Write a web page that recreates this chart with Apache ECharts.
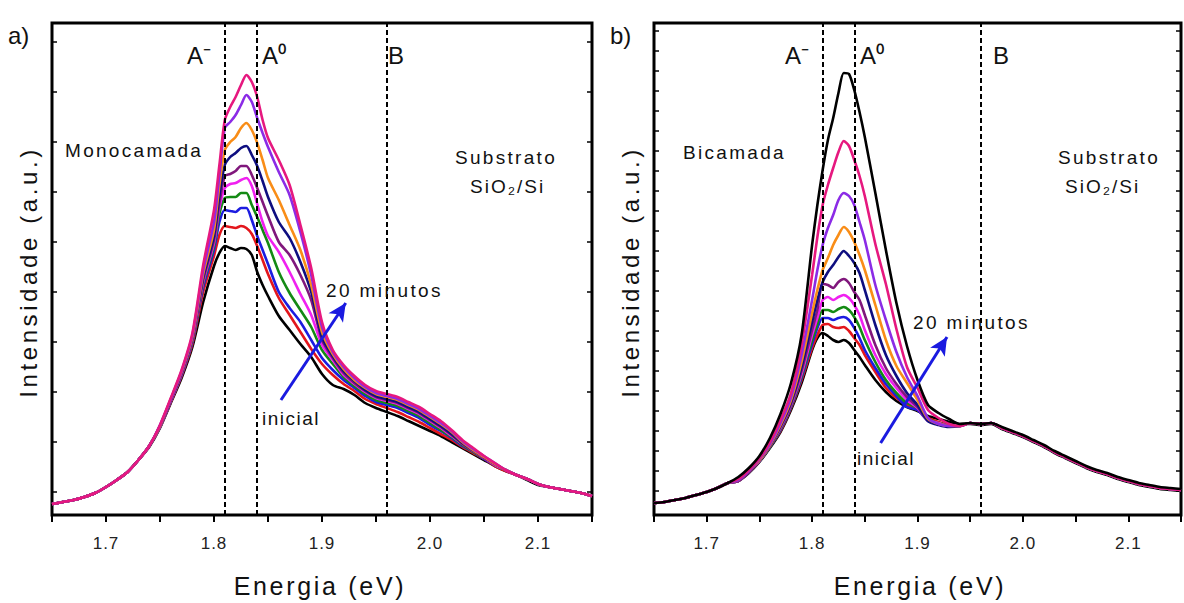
<!DOCTYPE html>
<html>
<head>
<meta charset="utf-8">
<script src="https://cdn.jsdelivr.net/npm/echarts@6/dist/echarts.min.js"></script>
<style>
  html, body { margin: 0; padding: 0; background: #ffffff; }
  #chart { width: 1184px; height: 603px; }
</style>
</head>
<body>
<div id="chart"></div>
<script>
// Photon energy grid (eV); finer steps around the A exciton peak
const energia = [
  1.65, 1.66, 1.67, 1.68, 1.69, 1.70, 1.71, 1.72, 1.73, 1.74,
  1.75, 1.76, 1.77, 1.78, 1.79, 1.80, 1.805, 1.81, 1.815, 1.82,
  1.825, 1.83, 1.835, 1.84, 1.845, 1.85, 1.86, 1.87, 1.88, 1.89,
  1.90, 1.91, 1.92, 1.93, 1.94, 1.95, 1.96, 1.97, 1.98, 1.99,
  2.00, 2.01, 2.02, 2.03, 2.04, 2.05, 2.06, 2.07, 2.08, 2.09,
  2.10, 2.11, 2.12, 2.13, 2.14, 2.15
];

// (a) Monolayer PL spectra, initial -> 20 minutes (a.u.)
const monoPreto    = [11,13,15,18,22,28,35,43,55,68, 87,112,137,168,213,249,262,269,267,265, 267,266,260,243,230,219,199,185,171,158, 141,130,126,120,112,107,103,99,94,89, 84,79,73,67,61,55,49,44,40,35, 30,28,26,24,22,19];
const monoVermelho = [11,13,15,18,22,28,35,43,55,69, 88,113,139,171,223,259,280,289,288,287, 289,287,281,269,255,241,217,200,183,166, 151,140,131,124,116,111,107,103,98,93, 87,81,75,68,62,56,49,44,40,36, 31,28,26,24,22,19];
const monoAzul     = [11,13,15,18,22,28,35,43,55,69, 88,114,140,173,228,265,293,305,304,303, 307,307,295,279,265,251,223,207,193,175, 157,145,135,127,119,113,110,107,102,97, 90,84,77,69,63,56,50,45,40,36, 31,28,26,24,22,19];
const monoVerde    = [11,13,15,18,22,28,35,43,55,69, 88,114,141,174,231,269,301,317,318,318, 322,322,310,298,285,272,243,222,205,188, 165,151,138,129,121,115,112,109,104,99, 92,85,78,70,63,57,50,45,40,36, 31,28,26,24,22,19];
const monoMagenta  = [11,13,15,18,22,28,35,43,55,69, 88,114,141,175,233,272,307,327,331,332, 335,337,329,311,293,279,263,243,221,200, 170,155,140,131,123,117,114,111,106,101, 94,87,79,71,64,57,50,45,40,36, 31,28,26,24,22,19];
const monoRoxo     = [11,13,15,18,22,28,35,43,55,69, 89,115,142,176,235,275,312,339,341,344, 349,349,340,327,313,299,273,260,240,215, 175,157,142,132,124,118,115,112,107,102, 95,88,80,71,64,57,51,45,40,36, 31,28,26,24,22,19];
const monoMarinho  = [11,13,15,18,22,28,35,43,55,69, 89,115,142,177,238,279,320,350,358,362, 367,369,360,349,334,318,293,277,253,223, 178,159,144,134,125,119,116,113,108,103, 96,89,81,72,65,58,51,45,40,36, 31,28,26,24,22,19];
const monoLaranja  = [11,13,15,18,22,28,35,43,55,69, 89,116,143,178,241,285,330,365,373,378, 387,392,385,372,355,337,315,290,265,230, 183,161,146,135,127,121,118,115,110,105, 98,91,83,73,65,58,51,45,40,36, 31,28,26,24,22,19];
const monoVioleta  = [11,13,15,18,22,28,35,43,55,69, 90,116,144,180,245,293,340,387,393,400, 410,420,413,397,382,368,343,320,283,240, 188,163,148,137,128,122,119,116,111,106, 99,92,84,74,66,59,52,45,40,36, 31,28,26,24,22,19];
const monoRosa     = [11,13,15,18,22,28,35,43,55,69, 90,117,145,182,250,305,350,395,408,418, 430,440,433,418,395,377,355,330,290,247, 193,165,150,139,130,124,121,118,113,108, 101,94,85,75,67,59,52,45,40,36, 31,28,26,24,22,19];

// (b) Bilayer PL spectra, initial -> 20 minutes (a.u.)
const biPreto0   = [12,13,15,17,20,23,27,32,34,42, 53,67,83,105,132,165,177,182,179,175, 173,175,172,165,158,150,135,123,114,108, 104,99,96,93,91,91,90,91, 86,82,78,73,68,62,57,52,47,43,40,36,33,30,28,26,25,24];
const biVermelho = [12,13,15,17,20,23,27,32,34,43, 54,68,84,107,135,167,180,190,191,188, 187,188,184,177,170,160,143,127,117,110, 105,97,93,90,89,92,91,92, 87,83,79,74,69,63,58,53,48,44,41,37,34,31,29,27,26,25];
const biAzul     = [12,13,15,17,20,23,27,32,34,43, 54,68,85,108,137,171,187,197,197,195, 197,198,195,187,177,165,147,131,119,108, 105,94,91,89,89,92,91,92, 87,83,79,74,69,63,58,53,48,44,41,37,34,31,29,27,26,25];
const biVerde    = [12,13,15,17,20,23,27,32,34,43, 54,68,86,109,139,175,191,205,205,203, 206,208,205,198,188,175,153,135,122,112, 107,96,92,90,89,92,91,92, 87,83,79,74,69,63,58,53,48,44,41,37,34,31,29,27,26,25];
const biMagenta  = [12,13,15,17,20,23,27,32,34,43, 54,69,87,110,141,180,197,215,218,215, 218,220,217,210,200,185,160,141,127,115, 107,95,92,89,89,92,91,92, 87,83,79,74,69,63,58,53,48,44,41,37,34,31,29,27,26,25];
const biRoxo     = [12,13,15,17,20,23,27,32,34,43, 55,69,88,111,144,185,205,231,230,227, 233,236,232,223,215,200,170,147,131,118, 108,94,91,89,89,92,91,92, 87,83,79,74,69,63,58,53,48,44,41,37,34,31,29,27,26,25];
const biMarinho  = [12,13,15,17,20,23,27,32,35,44, 55,70,89,113,148,193,215,233,243,250, 258,264,259,252,242,225,190,160,139,122, 110,94,90,88,89,92,91,92, 87,83,79,74,69,63,58,53,48,44,41,37,34,31,29,27,26,25];
const biLaranja  = [12,13,15,17,20,23,27,32,35,44, 55,70,90,115,153,202,225,245,257,270, 280,288,283,273,260,245,210,175,149,132, 115,96,91,89,89,92,91,92, 87,83,79,74,69,63,58,53,48,44,41,37,34,31,29,27,26,25];
const biVioleta  = [12,13,15,17,20,23,27,32,35,44, 56,71,92,118,160,215,245,270,287,300, 315,322,319,310,293,275,230,195,163,138, 119,97,91,89,89,92,91,92, 87,83,79,74,69,63,58,53,48,44,41,37,34,31,29,27,26,25];
const biRosa     = [12,13,15,17,20,23,27,32,36,45, 57,73,95,122,170,240,278,310,330,347, 363,374,369,355,339,319,271,231,186,148, 127,105,97,91,89,92,91,92, 87,83,79,74,69,63,58,53,48,44,41,37,34,31,29,27,26,25];
const biPreto20  = [12,13,15,17,20,23,27,32,38,47, 59,77,101,132,180,270,310,345,375,397, 422,442,441,425,403,378,322,265,212,169, 135,110,102,96,91,92,91,92, 88,84,80,75,70,64,59,54,49,45,42,38,35,32,30,28,27,26];

// Exciton reference energies (eV): A-, A0, B
const excitonMono = [1.809, 1.839, 1.958];
const excitonBi   = [1.806, 1.836, 1.960];
const excitonRotulos = ['A\u207B', 'A\u2070', 'B'];

// Time-arrow endpoints [energy, intensity]
const setaMono = [[1.862, 115], [1.922, 212]];
const setaBi   = [[1.865, 72], [1.928, 178]];

// Energy axis
const eMin = 1.65, eMax = 2.15, ePasso = 0.05;
const intensMax = 492;
// Intensity axis tick positions (a.u.)
const ticksMono = [23, 73, 123, 173, 223, 273, 323, 373, 423, 473];
const ticksBi = [24, 44, 64, 84, 104, 124, 144, 164, 184, 204, 224, 244, 264, 284, 304, 324, 344, 364, 384, 404, 424, 444, 464, 484];

const cores = {
  preto: '#000000', vermelho: '#e3161c', azul: '#1c1ce0', verde: '#148a14',
  magenta: '#f020f0', roxo: '#80177c', marinho: '#0e0e80', laranja: '#f98d17',
  violeta: '#8b2be6', rosa: '#e6187f'
};

const seriesMono = [
  [monoPreto, cores.preto], [monoVermelho, cores.vermelho], [monoAzul, cores.azul],
  [monoVerde, cores.verde], [monoMagenta, cores.magenta], [monoRoxo, cores.roxo],
  [monoMarinho, cores.marinho], [monoLaranja, cores.laranja], [monoVioleta, cores.violeta],
  [monoRosa, cores.rosa]
];
const seriesBi = [
  [biPreto0, cores.preto], [biVermelho, cores.vermelho], [biAzul, cores.azul],
  [biVerde, cores.verde], [biMagenta, cores.magenta], [biRoxo, cores.roxo],
  [biMarinho, cores.marinho], [biLaranja, cores.laranja], [biVioleta, cores.violeta],
  [biRosa, cores.rosa], [biPreto20, cores.preto]
];

const FONTE = "'Liberation Sans', Arial, sans-serif";
const TINTA = '#111111';

function pares(valores) {
  return energia.map((e, i) => [e, valores[i]]);
}

function linhasTracejadas(energias) {
  return {
    silent: true,
    symbol: ['none', 'none'],
    label: { show: false },
    lineStyle: { color: '#000', type: [5, 3], width: 2 },
    z: 20,
    data: energias.map(e => ({ xAxis: e })),
    animation: false
  };
}

function seta(pts) {
  return {
    silent: true,
    symbol: ['none', 'arrow'],
    symbolSize: [13, 18],
    label: { show: false },
    lineStyle: { color: '#1a1ae0', type: 'solid', width: 3 },
    z: 21,
    data: [[{ coord: pts[0] }, { coord: pts[1] }]],
    animation: false
  };
}

function construirSeries(lista, gi, tracos) {
  return lista.map((par, k) => {
    const s = {
      type: 'line',
      xAxisIndex: gi,
      yAxisIndex: gi * 2,
      data: pares(par[0]),
      showSymbol: false,
      smooth: 0.25,
      lineStyle: { color: par[1], width: 2.6 },
      itemStyle: { color: par[1] },
      z: 2 + k,
      silent: true
    };
    if (k === lista.length - 1) s.markLine = linhasTracejadas(tracos);
    return s;
  });
}

const sMono = construirSeries(seriesMono, 0, excitonMono);
const sBi = construirSeries(seriesBi, 1, excitonBi);
// arrows drawn by a helper series per panel
sMono.push({ type: 'line', xAxisIndex: 0, yAxisIndex: 0, data: [], silent: true, markLine: seta(setaMono), z: 30 });
sBi.push({ type: 'line', xAxisIndex: 1, yAxisIndex: 2, data: [], silent: true, markLine: seta(setaBi), z: 30 });

function eixoX(gi) {
  return {
    type: 'value', gridIndex: gi, min: eMin, max: eMax, interval: ePasso,
    axisLine: { show: false },
    splitLine: { show: false },
    axisTick: { show: true, inside: false, length: 7, lineStyle: { color: '#000', width: 2 } },
    axisLabel: {
      show: true, margin: 20, fontSize: 17, color: '#222', fontFamily: FONTE,
      formatter: v => (Math.abs(v * 10 - Math.round(v * 10)) < 1e-6 ? v.toFixed(1) : '')
    }
  };
}
function eixoY(gi, pos, ticks) {
  return {
    type: 'value', gridIndex: gi, position: pos, min: 0, max: intensMax,
    axisLine: { show: false },
    splitLine: { show: false },
    axisLabel: { show: false },
    axisTick: { show: true, inside: true, length: 5, customValues: ticks, lineStyle: { color: '#000', width: 1.5 } }
  };
}

function texto(t, x, y, size, extra) {
  return Object.assign({
    type: 'text', x: x, y: y, z: 100, silent: true,
    style: { text: t, fontSize: size, fontFamily: FONTE, fill: TINTA, align: 'left', verticalAlign: 'middle' }
  }, extra || {});
}

const grafico = [
  texto('a)', 8, 35, 24),
  texto(excitonRotulos[0], 187, 55, 24),
  texto(excitonRotulos[1], 262, 55, 24),
  texto(excitonRotulos[2], 388, 55, 24),
  texto('Monocamada', 65, 150, 19),
  texto('Substrato', 455, 157, 19),
  texto('SiO\u2082/Si', 470, 186, 19),
  texto('20 minutos', 326, 290, 19),
  texto('inicial', 262, 418, 19),
  texto('b)', 610, 35, 24),
  texto(excitonRotulos[0], 785, 55, 24),
  texto(excitonRotulos[1], 860, 55, 24),
  texto(excitonRotulos[2], 993, 55, 24),
  texto('Bicamada', 683, 152, 19),
  texto('Substrato', 1058, 157, 19),
  texto('SiO\u2082/Si', 1065, 186, 19),
  texto('20 minutos', 913, 322, 19),
  texto('inicial', 857, 458, 19),
  { type: 'text', x: 28, y: 272, rotation: Math.PI / 2, z: 100, silent: true,
    style: { text: 'Intensidade (a.u.)', fontSize: 24, fontFamily: FONTE, fill: TINTA, align: 'center', verticalAlign: 'middle' } },
  { type: 'text', x: 630, y: 272, rotation: Math.PI / 2, z: 100, silent: true,
    style: { text: 'Intensidade (a.u.)', fontSize: 24, fontFamily: FONTE, fill: TINTA, align: 'center', verticalAlign: 'middle' } },
  { type: 'text', x: 320, y: 586, z: 100, silent: true,
    style: { text: 'Energia (eV)', fontSize: 25, fontFamily: FONTE, fill: TINTA, align: 'center', verticalAlign: 'middle' } },
  { type: 'text', x: 920, y: 586, z: 100, silent: true,
    style: { text: 'Energia (eV)', fontSize: 25, fontFamily: FONTE, fill: TINTA, align: 'center', verticalAlign: 'middle' } }
];

const chart = echarts.init(document.getElementById('chart'), null, { renderer: 'svg', width: 1184, height: 603 });
chart.setOption({
  animation: false,
  backgroundColor: '#ffffff',
  grid: [
    { left: 52, top: 23, width: 540, height: 492, show: true, borderColor: '#000', borderWidth: 3, containLabel: false },
    { left: 654, top: 23, width: 538, height: 492, show: true, borderColor: '#000', borderWidth: 3, containLabel: false }
  ],
  xAxis: [eixoX(0), eixoX(1)],
  yAxis: [eixoY(0, 'left', ticksMono), eixoY(0, 'right', ticksMono), eixoY(1, 'left', ticksBi), eixoY(1, 'right', ticksBi)],
  series: sMono.concat(sBi),
  graphic: grafico
});

// wider tracking for the text, as in the typeset figure
const espacamento = {
  'Energia (eV)': 2.7, 'Intensidade (a.u.)': 3.6, 'Monocamada': 2.3, 'Bicamada': 2.3,
  'Substrato': 2.3, 'SiO\u2082/Si': 2, '20 minutos': 2.4, 'inicial': 1.5,
  '1.7': 1, '1.8': 1, '1.9': 1, '2.0': 1, '2.1': 1
};
function aplicarEspacamento() {
  document.querySelectorAll('#chart svg text').forEach(el => {
    const v = espacamento[el.textContent];
    if (v) el.setAttribute('letter-spacing', v + 'px');
  });
}
aplicarEspacamento();
chart.on('finished', aplicarEspacamento);
</script>
</body>
</html>
